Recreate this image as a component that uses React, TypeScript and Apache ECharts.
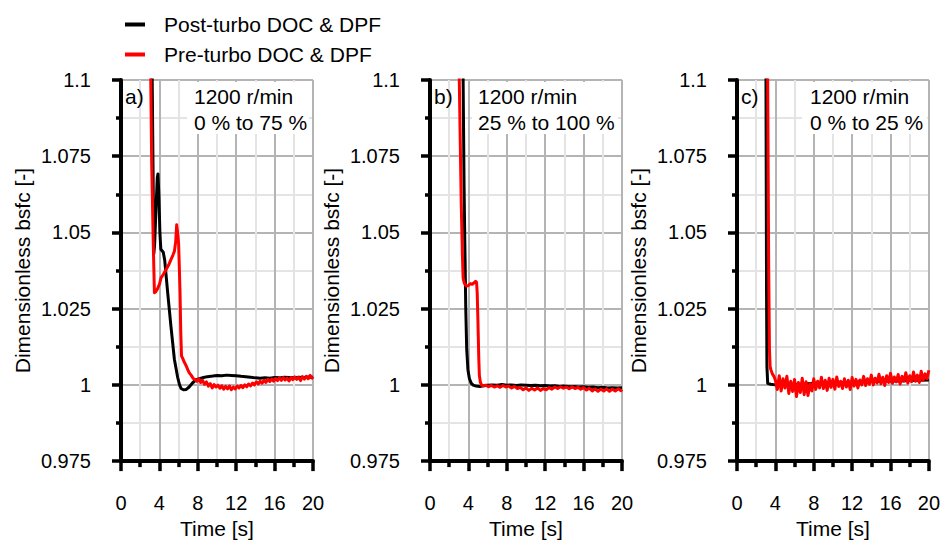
import React, { useEffect, useRef } from "react";
import * as echarts from "echarts";

// ---------------- data ----------------
const seriesNames = ["Post-turbo DOC & DPF", "Pre-turbo DOC & DPF"];
const panelLabels = ["a)", "b)", "c)"];
const panelNotes = ["1200 r/min\n0 % to 75 %", "1200 r/min\n25 % to 100 %", "1200 r/min\n0 % to 25 %"];
const yTickLabels = ["0.975", "1", "1.025", "1.05", "1.075", "1.1"];
const xTickLabels = ["0", "4", "8", "12", "16", "20"];

// Panel a – post-turbo (black)
const aPostT = [3.1, 3.25, 3.42, 3.5, 3.65, 3.78, 3.85, 3.95, 4.05, 4.15, 4.4, 4.55, 4.87, 5.2, 5.56, 5.9, 6.1, 6.26, 6.5, 6.8, 7.1, 7.47, 7.8, 8.17, 8.6, 9.0, 9.56, 10.0, 10.5, 11.0, 11.5, 12.0, 12.5, 13.0, 13.5, 14.0, 14.5, 15.0, 15.5, 16.0, 16.5, 17.0, 17.5, 18.0, 18.5, 19.0, 19.5, 20.0];
const aPostV = [1.2, 1.1, 1.043, 1.046, 1.058, 1.068, 1.0692, 1.062, 1.05, 1.0445, 1.0435, 1.041, 1.030, 1.0193, 1.0084, 1.0025, 1.0000, 0.9988, 0.9984, 0.9985, 0.9993, 1.0007, 1.0016, 1.0020, 1.0024, 1.0027, 1.0029, 1.0031, 1.0030, 1.0032, 1.0031, 1.0030, 1.0028, 1.0027, 1.0025, 1.0023, 1.0022, 1.0023, 1.0022, 1.0024, 1.0023, 1.0025, 1.0024, 1.0023, 1.0025, 1.0024, 1.0026, 1.0025];

// Panel a – pre-turbo (red)
const aPreT = [3.0, 3.1, 3.2, 3.35, 3.48, 3.6, 3.8, 4.0, 4.17, 4.4, 4.69, 4.95, 5.2, 5.4, 5.56, 5.7, 5.8, 5.9, 6.0, 6.08, 6.15, 6.22, 6.3, 6.45, 6.6, 6.8, 6.95, 7.1, 7.3, 7.5, 7.7, 7.9, 8.1, 8.3, 8.5, 8.7, 8.9, 9.1, 9.3, 9.5, 9.7, 9.9, 10.1, 10.3, 10.5, 10.7, 10.9, 11.1, 11.3, 11.5, 11.7, 11.9, 12.1, 12.3, 12.5, 12.7, 12.9, 13.1, 13.3, 13.5, 13.7, 13.9, 14.1, 14.3, 14.5, 14.7, 14.9, 15.1, 15.3, 15.5, 15.7, 15.9, 16.1, 16.3, 16.5, 16.7, 16.9, 17.1, 17.3, 17.5, 17.7, 17.9, 18.1, 18.3, 18.5, 18.7, 18.9, 19.1, 19.3, 19.5, 19.7, 19.9, 20.0];
const aPreV = [1.2, 1.1, 1.072, 1.048, 1.0302, 1.0305, 1.0315, 1.033, 1.0351, 1.0362, 1.0378, 1.0392, 1.0411, 1.0425, 1.0438, 1.047, 1.0525, 1.050, 1.0465, 1.038, 1.030, 1.018, 1.0095, 1.0085, 1.0074, 1.0062, 1.0050, 1.0040, 1.0032, 1.0022, 1.0018, 1.0012, 1.0020, 1.0008, 1.0015, 1.0002, 1.0010, 0.9996, 1.0004, 0.9990, 1.0001, 0.9993, 0.9999, 0.9989, 0.9997, 0.9986, 0.9995, 0.9987, 0.9996, 0.9984, 0.9993, 0.9987, 0.9996, 0.9990, 0.9998, 0.9991, 1.0000, 0.9994, 1.0003, 0.9997, 1.0006, 1.0000, 1.0010, 1.0003, 1.0012, 1.0006, 1.0015, 1.0008, 1.0018, 1.0011, 1.0019, 1.0012, 1.0021, 1.0014, 1.0023, 1.0015, 1.0024, 1.0016, 1.0022, 1.0013, 1.0024, 1.0017, 1.0026, 1.0018, 1.0025, 1.0014, 1.0027, 1.0019, 1.0028, 1.0020, 1.0031, 1.0022, 1.0027];

// Panel b – post-turbo (black)
const bPostT = [3.2, 3.45, 3.55, 3.62, 3.66, 3.72, 3.82, 3.95, 4.1, 4.3, 4.5, 4.8, 5.2, 5.6, 6.0, 6.5, 7.0, 7.5, 8.0, 8.5, 9.0, 9.5, 10.0, 10.5, 11.0, 11.5, 12.0, 12.5, 13.0, 13.5, 14.0, 14.5, 15.0, 15.5, 16.0, 16.5, 17.0, 17.5, 18.0, 18.5, 19.0, 19.5, 20.0];
const bPostV = [1.2, 1.1, 1.065, 1.048, 1.040, 1.026, 1.012, 1.005, 1.0021, 1.0005, 0.9999, 0.9996, 0.9995, 0.9997, 0.9999, 1.0000, 0.9999, 1.0001, 0.9999, 1.0000, 0.9998, 1.0000, 0.9999, 0.9998, 0.9999, 0.9997, 0.9998, 0.9996, 0.9997, 0.9995, 0.9996, 0.9994, 0.9995, 0.9993, 0.9994, 0.9992, 0.9993, 0.9991, 0.9992, 0.9990, 0.9991, 0.9990, 0.9991];

// Panel b – pre-turbo (red)
const bPreT = [2.9, 3.05, 3.25, 3.38, 3.45, 3.55, 3.65, 3.8, 4.0, 4.2, 4.4, 4.6, 4.75, 4.85, 4.92, 5.0, 5.08, 5.14, 5.25, 5.38, 5.6, 5.8, 6.1, 6.4, 6.7, 7.0, 7.3, 7.6, 7.9, 8.2, 8.5, 8.8, 9.1, 9.4, 9.7, 10.0, 10.3, 10.6, 10.9, 11.2, 11.5, 11.8, 12.1, 12.4, 12.7, 13.0, 13.3, 13.6, 13.9, 14.2, 14.5, 14.8, 15.1, 15.4, 15.7, 16.0, 16.3, 16.6, 16.9, 17.2, 17.5, 17.8, 18.1, 18.4, 18.7, 19.0, 19.3, 19.6, 19.9, 20.0];
const bPreV = [1.2, 1.1, 1.06, 1.042, 1.035, 1.0336, 1.0330, 1.0324, 1.0326, 1.0332, 1.0330, 1.0335, 1.0340, 1.0336, 1.030, 1.020, 1.009, 1.0032, 1.0008, 0.9999, 0.9997, 0.9999, 0.9994, 0.9998, 0.9993, 0.9997, 0.9992, 0.9998, 0.9993, 0.9996, 0.9990, 0.9995, 0.9988, 0.9992, 0.9984, 0.9990, 0.9982, 0.9989, 0.9983, 0.9990, 0.9982, 0.9988, 0.9984, 0.9991, 0.9986, 0.9993, 0.9988, 0.9994, 0.9989, 0.9993, 0.9987, 0.9994, 0.9988, 0.9992, 0.9986, 0.9991, 0.9983, 0.9989, 0.9980, 0.9987, 0.9979, 0.9986, 0.9980, 0.9987, 0.9979, 0.9986, 0.9980, 0.9987, 0.9981, 0.9985];

// Panel c – post-turbo (black)
const cPostT = [2.9, 3.02, 3.08, 3.12, 3.2, 3.5, 4, 5, 6, 7, 8, 9, 10, 11, 12, 13, 14, 15, 16, 17, 18, 19, 20];
const cPostV = [1.2, 1.1, 1.03, 1.006, 1.0005, 1.0002, 1.0, 1.0, 1.0001, 1.0003, 1.0005, 1.0006, 1.0007, 1.0008, 1.0009, 1.001, 1.0011, 1.0012, 1.0013, 1.0013, 1.0014, 1.0015, 1.0016];

// Panel c – pre-turbo (red)
const cPreT = [3.1, 3.2, 3.3, 3.38, 3.45, 3.55, 3.7, 3.85, 4.0, 4.2, 4.4, 4.6, 4.8, 5.0, 5.2, 5.4, 5.6, 5.8, 6.0, 6.2, 6.4, 6.6, 6.8, 7.0, 7.2, 7.4, 7.6, 7.8, 8.0, 8.2, 8.4, 8.6, 8.8, 9.0, 9.2, 9.4, 9.6, 9.8, 10.0, 10.2, 10.4, 10.6, 10.8, 11.0, 11.2, 11.4, 11.6, 11.8, 12.0, 12.2, 12.4, 12.6, 12.8, 13.0, 13.2, 13.4, 13.6, 13.8, 14.0, 14.2, 14.4, 14.6, 14.8, 15.0, 15.2, 15.4, 15.6, 15.8, 16.0, 16.2, 16.4, 16.6, 16.8, 17.0, 17.2, 17.4, 17.6, 17.8, 18.0, 18.2, 18.4, 18.6, 18.8, 19.0, 19.2, 19.4, 19.6, 19.8, 20.0];
const cPreV = [1.2, 1.1, 1.04, 1.012, 1.006, 1.0048, 1.0035, 1.0028, 1.0015, 0.9985, 1.0030, 0.9980, 1.0020, 0.9990, 1.0028, 0.9972, 1.0012, 0.9978, 1.0018, 0.9962, 1.0008, 0.9975, 1.0022, 0.9968, 1.0010, 0.9965, 1.0004, 0.9980, 1.0020, 0.9985, 1.0012, 0.9990, 1.0025, 0.9988, 1.0015, 0.9982, 1.0022, 0.9992, 1.0018, 0.9986, 1.0026, 0.9995, 1.0012, 0.9988, 1.0020, 0.9993, 1.0015, 0.9985, 1.0024, 0.9996, 1.0018, 0.9990, 1.0016, 1.0000, 1.0028, 0.9998, 1.0020, 1.0002, 1.0032, 1.0000, 1.0022, 1.0006, 1.0035, 1.0004, 1.0025, 0.9998, 1.0030, 1.0008, 1.0038, 1.0005, 1.0026, 1.0010, 1.0034, 1.0003, 1.0028, 1.0012, 1.0040, 1.0006, 1.0030, 1.0010, 1.0042, 1.0012, 1.0032, 1.0008, 1.0045, 1.0015, 1.0036, 1.0020, 1.0048];

const panels = [
  { post: [aPostT, aPostV], pre: [aPreT, aPreV] },
  { post: [bPostT, bPostV], pre: [bPreT, bPreV] },
  { post: [cPostT, cPostV], pre: [cPreT, cPreV] },
];

// ---------------- layout / style ----------------
const FONT = '"Liberation Sans", Arial, sans-serif';
const gridLefts = [121, 430, 737];
const GRID_TOP = 80;
const GRID_W = 192;
const GRID_H = 383;
const noteBoxes = [
  { x: 187, w: 122 },
  { x: 472, w: 146 },
  { x: 802, w: 125 },
];
const noteTextX = [194, 478, 810];

const zip = (t: number[], v: number[]) => t.map((x, i) => [x, v[i]]);

export default function App() {
  const ref = useRef<HTMLDivElement>(null);
  useEffect(() => {
    if (!ref.current) return;
    const chart = echarts.init(ref.current, null, { renderer: "svg" });

    const grids = gridLefts.map((l) => ({ left: l, top: GRID_TOP, width: GRID_W, height: GRID_H }));

    const xAxes = gridLefts.map((_, i) => ({
      type: "value",
      gridIndex: i,
      min: 0,
      max: 20,
      interval: 4,
      z: 3,
      axisLine: { onZero: false, lineStyle: { color: "#000", width: 4 } },
      axisTick: { show: true, length: 10, lineStyle: { color: "#000", width: 3.5 } },
      minorTick: { show: true, splitNumber: 2, length: 6, lineStyle: { color: "#000", width: 3.5 } },
      splitLine: { show: true, showMinLine: false, lineStyle: { color: "#b4b4b4", width: 2 } },
      minorSplitLine: { show: true, lineStyle: { color: "#e4e4e4", width: 2 } },
      axisLabel: {
        margin: 32,
        fontSize: 20,
        color: "#000",
        fontFamily: FONT,
        formatter: (v: number) => xTickLabels[Math.round(v / 4)] ?? String(v),
      },
      name: "Time [s]",
      nameLocation: "middle",
      nameGap: 54,
      nameTextStyle: { fontSize: 21, color: "#000", fontFamily: FONT },
    }));

    const yAxes = gridLefts.map((_, i) => ({
      type: "value",
      gridIndex: i,
      min: 0.975,
      max: 1.1,
      interval: 0.025,
      z: 3,
      axisLine: { onZero: false, lineStyle: { color: "#000", width: 4 } },
      axisTick: { show: true, length: 9, lineStyle: { color: "#000", width: 3.5 } },
      minorTick: { show: true, splitNumber: 2, length: 5, lineStyle: { color: "#000", width: 3.5 } },
      splitLine: { show: true, showMinLine: false, lineStyle: { color: "#b4b4b4", width: 2 } },
      minorSplitLine: { show: true, lineStyle: { color: "#e4e4e4", width: 2 } },
      axisLabel: {
        margin: 30,
        fontSize: 20,
        color: "#000",
        fontFamily: FONT,
        formatter: (v: number) => yTickLabels[Math.round((v - 0.975) / 0.025)] ?? String(v),
      },
      name: "Dimensionless bsfc [-]",
      nameLocation: "middle",
      nameGap: 88,
      nameTextStyle: { fontSize: 21, color: "#000", fontFamily: FONT },
    }));

    const series: any[] = [];
    panels.forEach((p, i) => {
      series.push({
        name: seriesNames[0],
        type: "line",
        xAxisIndex: i,
        yAxisIndex: i,
        showSymbol: false,
        clip: true,
        data: zip(p.post[0], p.post[1]),
        lineStyle: { color: "#000", width: 3, join: "round" },
        itemStyle: { color: "#000" },
      });
    });
    panels.forEach((p, i) => {
      series.push({
        name: seriesNames[1],
        type: "line",
        xAxisIndex: i,
        yAxisIndex: i,
        showSymbol: false,
        clip: true,
        data: zip(p.pre[0], p.pre[1]),
        lineStyle: { color: "#ff0000", width: 3, join: "round" },
        itemStyle: { color: "#ff0000" },
      });
    });

    const graphic: any[] = [];
    gridLefts.forEach((l, i) => {
      graphic.push({
        type: "rect",
        z: 100,
        shape: { x: noteBoxes[i].x, y: 82, width: noteBoxes[i].w, height: 52 },
        style: { fill: "#fff" },
      });
      graphic.push({
        type: "text",
        z: 101,
        x: noteTextX[i],
        y: 83,
        style: {
          text: panelNotes[i],
          font: `21px ${FONT}`,
          fill: "#000",
          lineHeight: 26,
          verticalAlign: "top",
        },
      });
      graphic.push({
        type: "text",
        z: 101,
        x: l + 4,
        y: 86,
        style: { text: panelLabels[i], font: `21px ${FONT}`, fill: "#000", verticalAlign: "top" },
      });
    });

    chart.setOption({
      animation: false,
      backgroundColor: "#fff",
      textStyle: { fontFamily: FONT },
      legend: {
        data: seriesNames,
        orient: "vertical",
        left: 120,
        top: 9,
        itemWidth: 20,
        itemHeight: 4,
        itemGap: 9,
        icon: "rect",
        textStyle: { fontSize: 21, color: "#000", fontFamily: FONT, padding: [0, 0, 0, 14] },
      },
      grid: grids,
      xAxis: xAxes,
      yAxis: yAxes,
      series,
      graphic,
    });
    return () => chart.dispose();
  }, []);
  return <div ref={ref} style={{ position: "absolute", left: 0, top: 0, width: 943, height: 544, background: "#fff" }} />;
}
